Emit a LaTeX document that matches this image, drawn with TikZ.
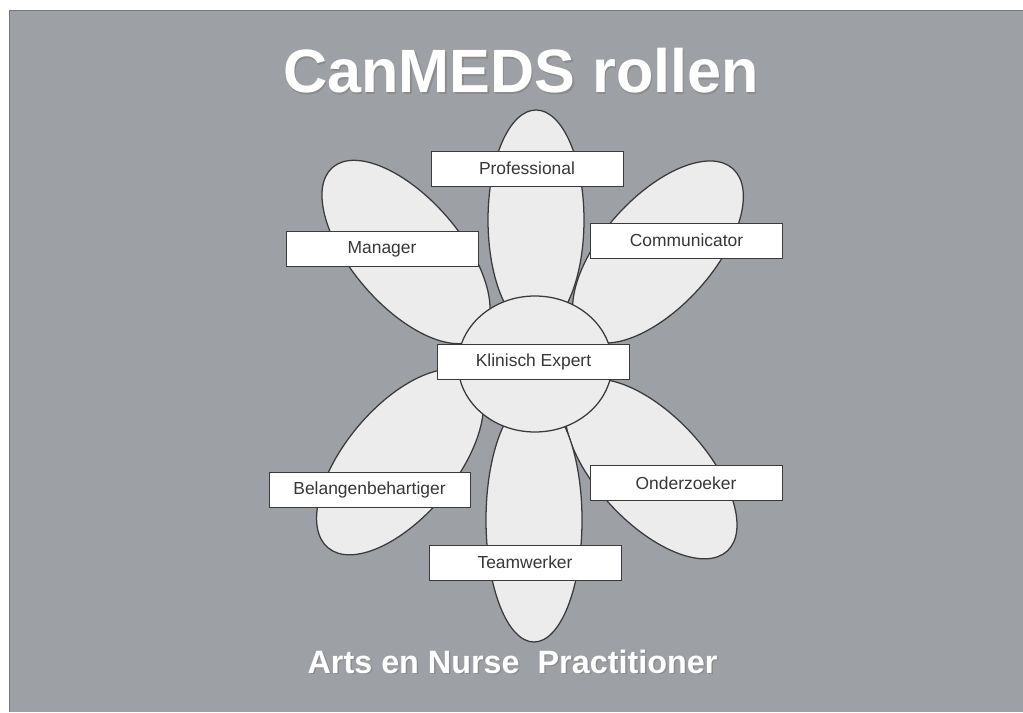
\documentclass[tikz,border=0pt]{standalone}
\usepackage{fontspec}
\setmainfont{Liberation Sans}
\usetikzlibrary{positioning,calc}
\definecolor{slide}{RGB}{157,161,165}
\definecolor{petalfill}{RGB}{236,236,236}
\definecolor{petalline}{RGB}{58,58,58}
\definecolor{labeltext}{RGB}{55,55,55}

\begin{document}
\begin{tikzpicture}
[x=0.025cm,y=0.025cm,
petal/.style={draw=petalline,fill=petalfill,line width=0.9pt},
rolebox/.style={draw=petalline,fill=white,line width=0.6pt,inner sep=0pt,
  minimum width=4.8cm,minimum height=0.875cm,text=labeltext,
  font=\fontsize{12.4}{14}\selectfont},
heading/.style={text=white,font=\bfseries\fontsize{43.5}{48}\selectfont,anchor=base},
subheading/.style={text=white,font=\bfseries\fontsize{23}{28}\selectfont,anchor=base}]
\useasboundingbox (0,0) rectangle (1023,712);
%%
% slide
%%
\fill[white] (0,0) rectangle (1023,712);
\fill[slide] (9,0) rectangle (1023,702);
\draw[slide!75!black,line width=0.5pt] (9,0) -- (9,702) -- (1023,702);
\node[heading,text=black!45] (titleshadow) at (522.5,617.5) {CanMEDS rollen};
\node[heading] (title) at (521,619) {CanMEDS rollen};
%%
% petals
%%
\coordinate (ptop) at (536,492);
\coordinate (pman) at (406,460);
\coordinate (pcom) at (658,460);
\coordinate (pond) at (651,243);
\coordinate (pbel) at (400,250);
\coordinate (pbot) at (534,192);
\draw[petal] (ptop) ellipse [x radius=48,y radius=110];
\draw[petal,rotate around={41:(pman)}] (pman) ellipse [x radius=54,y radius=112];
\draw[petal,rotate around={-42:(pcom)}] (pcom) ellipse [x radius=55,y radius=112];
\draw[petal,rotate around={43:(pond)}] (pond) ellipse [x radius=54,y radius=112];
\draw[petal,rotate around={-40:(pbel)}] (pbel) ellipse [x radius=55,y radius=112];
\draw[petal] (pbot) ellipse [x radius=48,y radius=122];
%% heart
\coordinate (heart) at (535,348);
\draw[petal] (heart) ellipse [x radius=77,y radius=68];
%%
% roles
%%
\node[rolebox] (prof) at (527,543.5) {Professional};
\node[rolebox] (man) at (382,463) {Manager};
\node[rolebox] (com) at (686.5,471.5) {Communicator};
\node[rolebox] (klin) at (533.5,350.5) {Klinisch Expert};
\node[rolebox,minimum width=5.025cm] (bel) at (369.5,222) {Belangenbehartiger};
\node[rolebox] (ond) at (686,229) {Onderzoeker};
\node[rolebox] (team) at (525,149.5) {Teamwerker};
%%
% bottom line
%%
\node[subheading,text=black!45] (subshadow) at (514,37.8) {Arts en Nurse~~Practitioner};
\node[subheading] (sub) at (512.5,39) {Arts en Nurse~~Practitioner};
\end{tikzpicture}
\end{document}
